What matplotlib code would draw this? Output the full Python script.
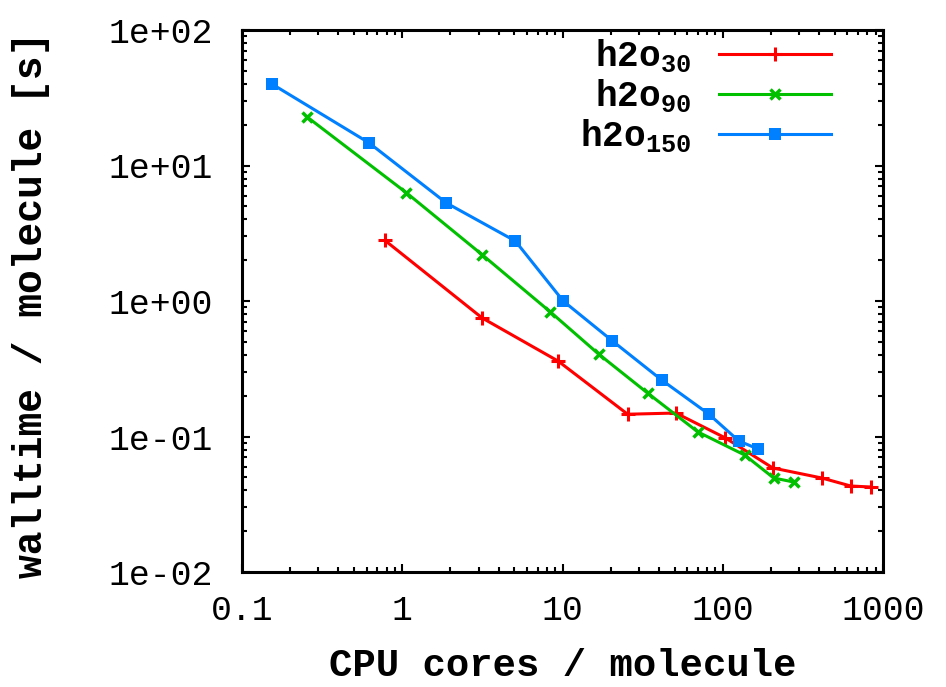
#!/usr/bin/env python3

import matplotlib
matplotlib.use('Agg')
import matplotlib.pyplot as plt
from matplotlib.ticker import LogLocator, FuncFormatter, NullFormatter

# cores per molecule vs. walltime per molecule for three system sizes
cores_30 = [0.78, 3.15, 9.4, 25.5, 51, 104, 205, 415, 630, 840]
time_30 = [2.8, 0.75, 0.36, 0.146, 0.149, 0.0975, 0.0586, 0.0494, 0.0431, 0.0424]

cores_90 = [0.255, 1.06, 3.16, 8.4, 16.8, 34, 70, 137, 208, 278]
time_90 = [22.8, 6.3, 2.19, 0.83, 0.406, 0.209, 0.108, 0.073, 0.0494, 0.0461]

cores_150 = [0.154, 0.62, 1.88, 5.08, 10.1, 20.5, 41.6, 81.7, 126, 166]
time_150 = [39.9, 14.7, 5.3, 2.77, 1.0, 0.507, 0.261, 0.1466, 0.0927, 0.0809]

labels = ['h2o$_{30}$', 'h2o$_{90}$', 'h2o$_{150}$']
colors = ['#ff0000', '#00c000', '#0080ff']


def main():
    plt.rcParams['font.family'] = ['Liberation Mono', 'DejaVu Sans Mono']
    plt.rcParams['axes.labelweight'] = 'bold'
    plt.rcParams['mathtext.default'] = 'regular'

    fig = plt.figure(figsize=(9.46, 6.87), dpi=100)
    ax = fig.add_axes([242 / 946, 1 - 572 / 687, 641 / 946, 542 / 687])

    ax.plot(cores_30, time_30, '-', marker='+', color=colors[0], lw=2.2,
            ms=10, mew=2.2, label=labels[0])
    ax.plot(cores_90, time_90, '-', marker='x', color=colors[1], lw=2.2,
            ms=7, mew=2.5, label=labels[1])
    ax.plot(cores_150, time_150, '-', marker='s', color=colors[2], lw=2.2,
            ms=8, mew=0, label=labels[2])

    ax.set_xscale('log')
    ax.set_yscale('log')
    ax.set_xlim(0.1, 1000)
    ax.set_ylim(1e-2, 1e2)

    ax.xaxis.set_major_locator(LogLocator(base=10, numticks=10))
    ax.yaxis.set_major_locator(LogLocator(base=10, numticks=10))
    ax.xaxis.set_minor_locator(LogLocator(base=10, subs=range(2, 10), numticks=20))
    ax.yaxis.set_minor_locator(LogLocator(base=10, subs=range(2, 10), numticks=20))
    ax.xaxis.set_major_formatter(FuncFormatter(lambda v, p: '%g' % v))
    ax.yaxis.set_major_formatter(FuncFormatter(lambda v, p: '%.0e' % v))
    ax.xaxis.set_minor_formatter(NullFormatter())
    ax.yaxis.set_minor_formatter(NullFormatter())

    ax.tick_params(which='both', direction='in', top=True, right=True,
                   width=1.5, labelsize=25)
    ax.tick_params(which='major', length=6)
    ax.tick_params(which='minor', length=3.5)
    ax.tick_params(axis='x', which='major', pad=16)
    ax.tick_params(axis='y', which='major', pad=21)
    for s in ax.spines.values():
        s.set_linewidth(2.2)

    ax.set_xlabel('CPU cores / molecule', fontsize=28)
    ax.set_ylabel('walltime / molecule [s]', fontsize=28.5)
    ax.xaxis.set_label_coords(0.5, -0.14)
    ax.yaxis.set_label_coords(-0.2995, 0.4926)

    ax.legend(loc='upper right', bbox_to_anchor=(0.941, 1.013),
              markerfirst=False, frameon=False,
              prop={'size': 26, 'weight': 'bold'},
              handlelength=3.1, handletextpad=0.75, labelspacing=0.08,
              borderaxespad=0)

    fig.savefig('out.png', dpi=100)


if __name__ == '__main__':
    main()
